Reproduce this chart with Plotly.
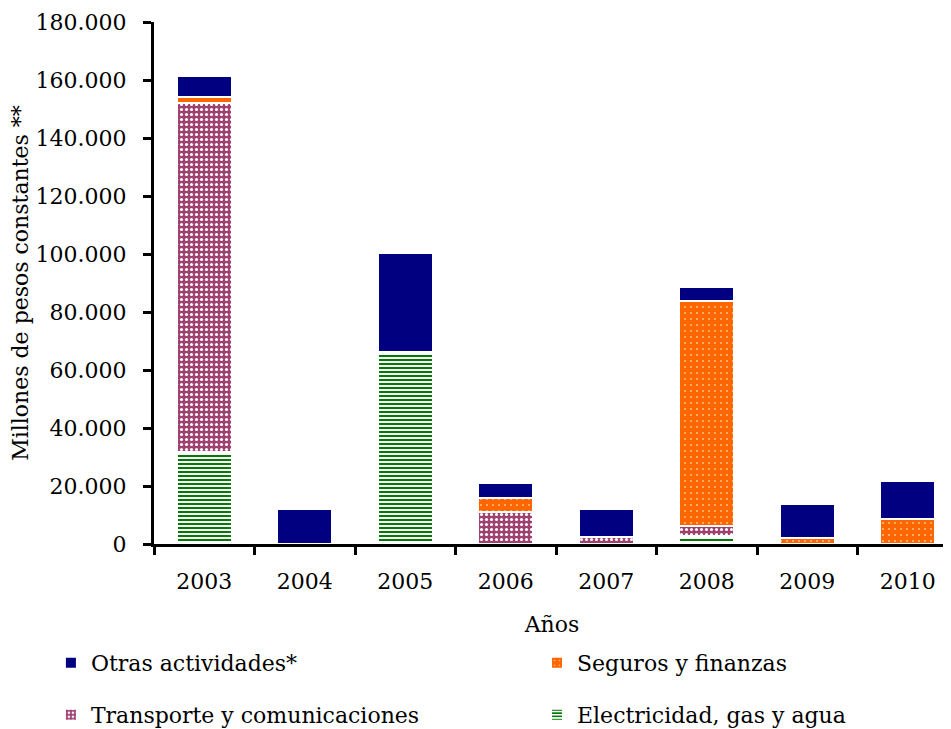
import plotly.graph_objects as go

years = ["2003", "2004", "2005", "2006", "2007", "2008", "2009", "2010"]
electricidad = [31700, 0, 66300, 0, 0, 2600, 0, 0]
transporte = [120500, 0, 0, 11000, 2300, 3600, 0, 0]
seguros = [2000, 0, 0, 5000, 0, 77500, 2000, 8500]
otras = [7300, 12000, 34000, 5000, 9700, 5000, 11800, 13300]

names = ["Electricidad, gas y agua", "Transporte y comunicaciones",
         "Seguros y finanzas", "Otras actividades*"]

FONT = "DejaVu Serif"
FS = 22
fig = go.Figure()

common = dict(x=years, marker_line_color="white", marker_line_width=2, showlegend=True)

fig.add_trace(go.Bar(y=electricidad, name=names[0], legend="legend4",
                     marker=dict(color="#008000",
                                 pattern=dict(shape="-", fgcolor="#007a00", bgcolor="white",
                                              size=4, solidity=0.5, fillmode="replace")),
                     **common))
fig.add_trace(go.Bar(y=transporte, name=names[1], legend="legend3",
                     marker=dict(color="#a0406f",
                                 pattern=dict(shape=".", fgcolor="white", bgcolor="#a0406f",
                                              size=5, solidity=0.3, fillmode="replace")),
                     **common))
fig.add_trace(go.Bar(y=seguros, name=names[2], legend="legend2",
                     marker=dict(color="#ff6600",
                                 pattern=dict(shape=".", fgcolor="#ffc890", bgcolor="#ff6600",
                                              size=6, solidity=0.08, fillmode="replace")),
                     **common))
fig.add_trace(go.Bar(y=otras, name=names[3], legend="legend",
                     marker=dict(color="#000080"), **common))


def leg(x, y):
    return dict(x=x, y=y, xref="container", yref="container", xanchor="left",
                yanchor="middle", orientation="h",
                font=dict(family=FONT, size=FS, color="black"),
                bgcolor="rgba(0,0,0,0)")


fig.update_layout(
    width=943, height=721,
    showlegend=True,
    barmode="stack", bargap=0.455,
    separators=",.",
    plot_bgcolor="white", paper_bgcolor="white",
    margin=dict(l=146, r=1, t=14, b=185, autoexpand=False),
    font=dict(family=FONT, size=FS, color="black"),
    legend=leg(0.0455, 0.0915),
    legend2=leg(0.561, 0.0915),
    legend3=leg(0.0455, 0.0195),
    legend4=leg(0.561, 0.0195),
    xaxis=dict(type="category", range=[-0.5, 7.42], showline=True, linecolor="black",
               linewidth=3, ticks="outside", tickson="boundaries", ticklen=8,
               tickwidth=3, tickcolor="black", showgrid=False, automargin=False,
               tickfont=dict(family=FONT, size=FS), ticklabelstandoff=16,
               title=dict(text="Años", standoff=24, font=dict(family=FONT, size=FS))),
    yaxis=dict(range=[0, 180000], dtick=20000, tickformat=",d", showline=True,
               linecolor="black", linewidth=3, ticks="outside", ticklen=8, tickwidth=3,
               tickcolor="black", showgrid=False, zeroline=False, automargin=False,
               tickfont=dict(family=FONT, size=FS), ticklabelstandoff=12,
               title=dict(text="Millones de pesos constantes **", standoff=8,
                          font=dict(family=FONT, size=FS))),
)

fig.write_html("out.html")
